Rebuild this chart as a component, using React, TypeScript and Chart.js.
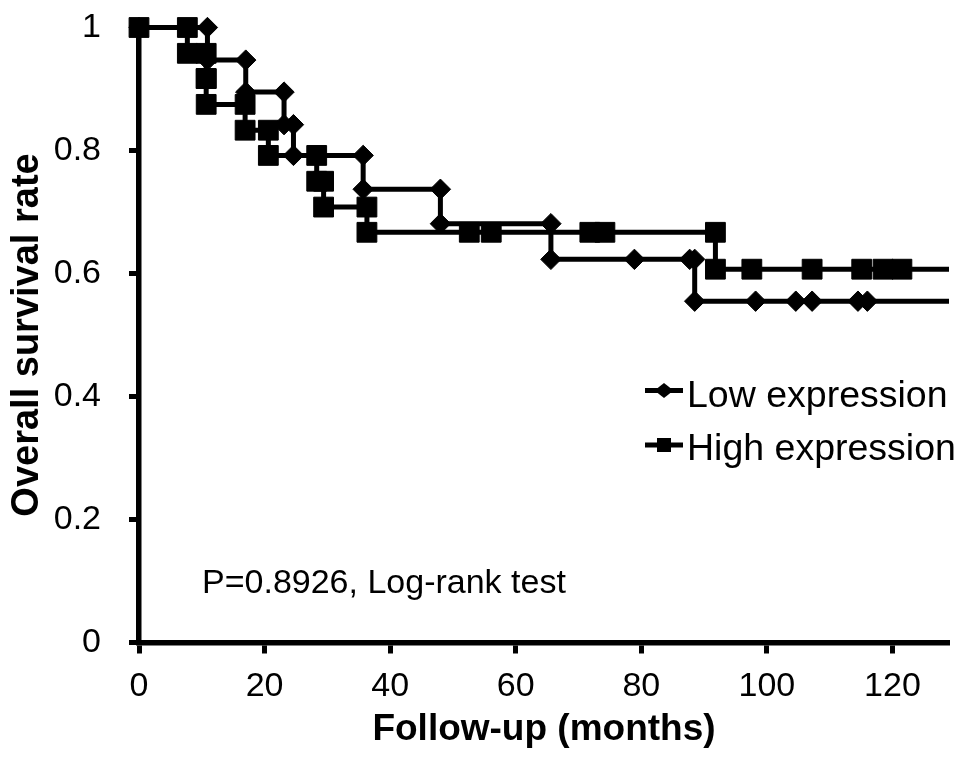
import { useEffect, useRef } from 'react';
import { Chart, registerables } from 'chart.js';

Chart.register(...registerables);

// ---- data ----
const X_MIN = 0;
const X_MAX = 129;
const Y_MIN = 0;
const Y_MAX = 1;
const xTickValues = [0, 20, 40, 60, 80, 100, 120];
const yTickValues = [0, 0.2, 0.4, 0.6, 0.8, 1];

const seriesLabels = ['Low expression', 'High expression'];

// Low expression group: event times (months) and survival after each event
const lowEventTimes = [10.9, 17.0, 23.1, 24.6, 35.7, 48.0, 65.6, 88.5];
const lowEventSurvival = [0.947, 0.895, 0.842, 0.792, 0.737, 0.681, 0.623, 0.555];
const lowCensoredTimes = [78.9, 87.7, 98.2, 104.6, 107.2, 114.5, 116.0];

// High expression group
const highEventTimes = [7.7, 10.7, 10.7, 16.9, 20.6, 28.3, 29.4, 36.3, 91.8];
const highEventSurvival = [0.958, 0.917, 0.875, 0.833, 0.792, 0.75, 0.708, 0.667, 0.607];
const highCensoredTimes = [52.6, 56.1, 71.8, 74.2, 97.6, 107.2, 115.1, 118.5, 121.5];

const pValueText = 'P=0.8926, Log-rank test';
const xTitle = 'Follow-up (months)';
const yTitle = 'Overall survival rate';

type Pt = { x: number; y: number; end?: boolean };

function buildCurve(eventTimes: number[], eventSurv: number[], censored: number[]): Pt[] {
  const items = [
    ...eventTimes.map((t, i) => ({ t, s: eventSurv[i], event: true })),
    ...censored.map((t) => ({ t, s: NaN, event: false })),
  ].sort((a, b) => a.t - b.t || Number(b.event) - Number(a.event));
  const pts: Pt[] = [{ x: 0, y: 1 }];
  let cur = 1;
  for (const it of items) {
    if (it.event) {
      pts.push({ x: it.t, y: cur });
      cur = it.s;
      pts.push({ x: it.t, y: cur });
    } else {
      pts.push({ x: it.t, y: cur });
    }
  }
  pts.push({ x: X_MAX, y: cur, end: true });
  return pts;
}

const FONT = '"Liberation Sans", Arial, Helvetica, sans-serif';

const annotationPlugin = {
  id: 'kmAnnotations',
  afterDraw(chart: any) {
    const { ctx, chartArea } = chart;
    const left = chartArea.left;
    const top = chartArea.top;
    ctx.save();
    ctx.fillStyle = '#000';
    ctx.strokeStyle = '#000';
    // P value text
    ctx.font = `34px ${FONT}`;
    ctx.textAlign = 'left';
    ctx.textBaseline = 'alphabetic';
    ctx.fillText(pValueText, left + 63, top + 565.5);

    // legend
    const rows = [
      { label: chart.data.datasets[0].label, style: 'diamond', lineY: top + 363, baseY: top + 379 },
      { label: chart.data.datasets[1].label, style: 'square', lineY: top + 417.5, baseY: top + 432.5 },
    ];
    ctx.font = `37.5px ${FONT}`;
    for (const r of rows) {
      const x0 = left + 506;
      const x1 = left + 544;
      const cx = (x0 + x1) / 2;
      ctx.lineWidth = 5;
      ctx.beginPath();
      ctx.moveTo(x0, r.lineY);
      ctx.lineTo(x1, r.lineY);
      ctx.stroke();
      ctx.beginPath();
      if (r.style === 'diamond') {
        ctx.moveTo(cx - 9.5, r.lineY);
        ctx.lineTo(cx, r.lineY - 7.5);
        ctx.lineTo(cx + 9.5, r.lineY);
        ctx.lineTo(cx, r.lineY + 7.5);
        ctx.closePath();
      } else {
        ctx.rect(cx - 7, r.lineY - 7, 14, 14);
      }
      ctx.fill();
      ctx.fillText(r.label, left + 548, r.baseY);
    }
    ctx.restore();
  },
};

export default function App() {
  const ref = useRef<HTMLCanvasElement | null>(null);

  useEffect(() => {
    if (!ref.current) return;
    const lowPts = buildCurve(lowEventTimes, lowEventSurvival, lowCensoredTimes);
    const highPts = buildCurve(highEventTimes, highEventSurvival, highCensoredTimes);

    const chart = new Chart(ref.current, {
      type: 'line',
      data: {
        datasets: [
          {
            label: seriesLabels[0],
            data: lowPts as any,
            borderColor: '#000',
            backgroundColor: '#000',
            borderWidth: 5,
            pointStyle: 'rectRot',
            pointRadius: (c: any) => (c.raw && c.raw.end ? 0 : 10.2),
            pointBorderWidth: 1,
            pointBackgroundColor: '#000',
            pointBorderColor: '#000',
            tension: 0,
            clip: false as any,
          },
          {
            label: seriesLabels[1],
            data: highPts as any,
            borderColor: '#000',
            backgroundColor: '#000',
            borderWidth: 5,
            pointStyle: 'rect',
            pointRadius: (c: any) => (c.raw && c.raw.end ? 0 : 14),
            pointBorderWidth: 1,
            pointBackgroundColor: '#000',
            pointBorderColor: '#000',
            tension: 0,
            clip: false as any,
          },
        ],
      },
      options: {
        animation: false,
        responsive: false,
        devicePixelRatio: 1,
        layout: { padding: { top: 27.5, right: 20, left: 0, bottom: 0 } },
        plugins: {
          legend: { display: false },
          tooltip: { enabled: false },
          title: { display: false },
        },
        scales: {
          x: {
            type: 'linear',
            min: X_MIN,
            max: X_MAX,
            afterBuildTicks: (s: any) => {
              s.ticks = xTickValues.map((v) => ({ value: v }));
            },
            afterFit: (s: any) => {
              s.height = 126.5;
              s.paddingLeft = 0;
              s.paddingRight = 0;
            },
            ticks: {
              color: '#000',
              font: { family: FONT, size: 34 },
              padding: 13,
              maxRotation: 0,
              autoSkip: false,
            },
            grid: {
              display: true,
              drawOnChartArea: false,
              drawTicks: true,
              tickLength: 11,
              tickWidth: 5,
              tickColor: '#000',
            },
            border: { display: true, color: '#000', width: 5.5 },
            title: {
              display: true,
              text: xTitle,
              color: '#000',
              font: { family: FONT, size: 37, weight: 'bold' },
              padding: { top: 0, bottom: 17 },
            },
          },
          y: {
            type: 'linear',
            min: Y_MIN,
            max: Y_MAX,
            afterBuildTicks: (s: any) => {
              s.ticks = yTickValues.map((v) => ({ value: v }));
            },
            afterFit: (s: any) => {
              s.width = 139;
              s.paddingTop = 0;
              s.paddingBottom = 0;
            },
            ticks: {
              color: '#000',
              font: { family: FONT, size: 34 },
              padding: 28,
              autoSkip: false,
              callback: (v: any) => String(Math.round(Number(v) * 10) / 10),
            },
            grid: {
              display: true,
              drawOnChartArea: false,
              drawTicks: true,
              tickLength: 10,
              tickWidth: 5,
              tickColor: '#000',
            },
            border: { display: true, color: '#000', width: 5.5 },
            title: {
              display: true,
              text: yTitle,
              color: '#000',
              font: { family: FONT, size: 38, weight: 'bold' },
              padding: { top: 5, bottom: 0 },
            },
          },
        },
      },
      plugins: [annotationPlugin],
    } as any);

    return () => chart.destroy();
  }, []);

  return (
    <div style={{ position: 'fixed', left: 0, top: 0, width: 969, height: 769, background: '#fff' }}>
      <canvas ref={ref} width={969} height={769} />
    </div>
  );
}
